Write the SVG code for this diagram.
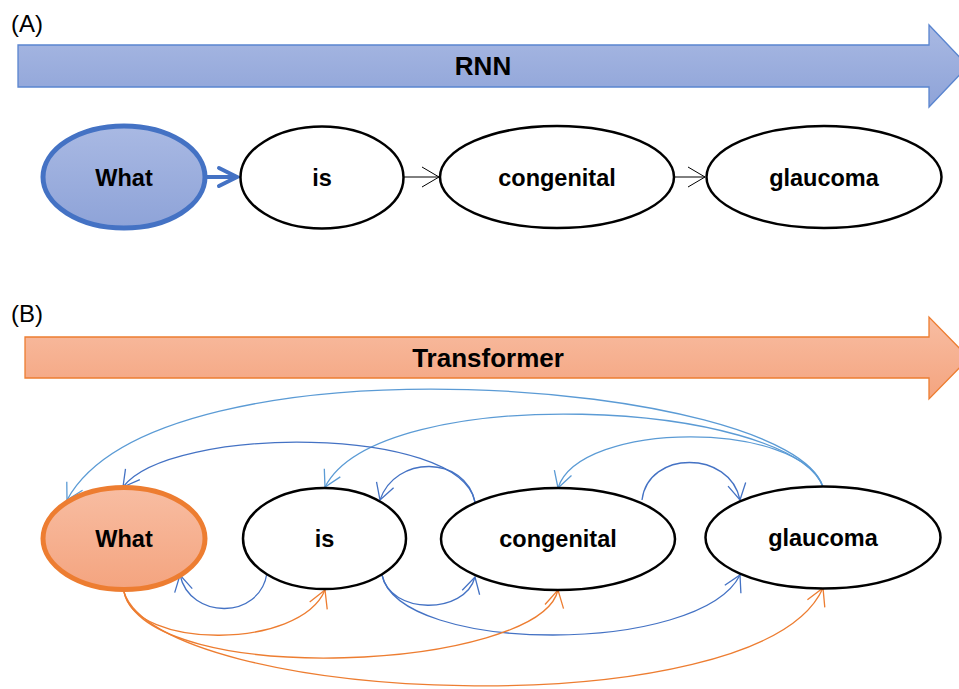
<svg xmlns="http://www.w3.org/2000/svg" width="959" height="689" viewBox="0 0 959 689">
<defs>
<style>
.lbl{font-family:"Liberation Sans",Arial,sans-serif;font-size:24px;fill:#000}
.ban{font-family:"Liberation Sans",Arial,sans-serif;font-size:26px;font-weight:bold;fill:#000;text-anchor:middle}
.nt{font-family:"Liberation Sans",Arial,sans-serif;font-size:23.5px;font-weight:bold;fill:#000;text-anchor:middle}
.plain{fill:#fff;stroke:#000;stroke-width:2.5}
.lb{fill:none;stroke:#5b9bd5;stroke-width:1.3}
.db{fill:none;stroke:#4472c4;stroke-width:1.3}
.or{fill:none;stroke:#ed7d31;stroke-width:1.3}
</style>
<linearGradient id="gBlue" x1="0" y1="0" x2="0" y2="1"><stop offset="0" stop-color="#a9b9e3"/><stop offset="1" stop-color="#8ea3d8"/></linearGradient>
<linearGradient id="gOr" x1="0" y1="0" x2="0" y2="1"><stop offset="0" stop-color="#f8bda2"/><stop offset="1" stop-color="#f4a47f"/></linearGradient>
<marker id="mLB" markerUnits="userSpaceOnUse" markerWidth="40" markerHeight="40" viewBox="-20 -20 40 40" refX="0" refY="0" orient="auto" overflow="visible"><path d="M-16,-9 L0,0 L-16,9" fill="none" stroke="#5b9bd5" stroke-width="1.3"/></marker>
<marker id="mDB" markerUnits="userSpaceOnUse" markerWidth="40" markerHeight="40" viewBox="-20 -20 40 40" refX="0" refY="0" orient="auto" overflow="visible"><path d="M-16,-9 L0,0 L-16,9" fill="none" stroke="#4472c4" stroke-width="1.3"/></marker>
<marker id="mOR" markerUnits="userSpaceOnUse" markerWidth="40" markerHeight="40" viewBox="-20 -20 40 40" refX="0" refY="0" orient="auto" overflow="visible"><path d="M-17,-9.5 L0,0 L-17,9.5" fill="none" stroke="#ed7d31" stroke-width="1.3"/></marker>
<marker id="mBK" markerUnits="userSpaceOnUse" markerWidth="40" markerHeight="40" viewBox="-20 -20 40 40" refX="0" refY="0" orient="auto" overflow="visible"><path d="M-17,-10 L0,0 L-17,10" fill="none" stroke="#000" stroke-width="1"/></marker>
<marker id="mTB" markerUnits="userSpaceOnUse" markerWidth="40" markerHeight="40" viewBox="-20 -20 40 40" refX="0" refY="0" orient="auto" overflow="visible"><path d="M-18,-9 L0,0 L-18,9" fill="none" stroke="#4472c4" stroke-width="4" stroke-linecap="round"/></marker>
</defs>
<rect width="959" height="689" fill="#fff"/>

<text class="lbl" x="11" y="32">(A)</text>
<g id="rnn-banner">
<path d="M18,45 L929,45 L929,25 L968,66 L929,107 L929,87 L18,87 Z" fill="url(#gBlue)" stroke="#5a85cf" stroke-width="1.3"/>
<text class="ban" x="483" y="75">RNN</text>
</g>

<text class="lbl" x="11" y="322">(B)</text>
<g id="transformer-banner">
<path d="M25,337 L929,337 L929,317 L969,358 L929,399 L929,378 L25,378 Z" fill="url(#gOr)" stroke="#ed7d31" stroke-width="1.3"/>
<text class="ban" x="488" y="367">Transformer</text>
</g>

<g id="connectors">
<line x1="207" y1="177" x2="237" y2="177" stroke="#4472c4" stroke-width="4" marker-end="url(#mTB)"/>
<line x1="404" y1="177" x2="439" y2="177" stroke="#000" stroke-width="1" marker-end="url(#mBK)"/>
<line x1="674" y1="177" x2="705" y2="177" stroke="#000" stroke-width="1" marker-end="url(#mBK)"/>

<path class="lb" d="M823,487 C790,380 160,330 67,500" marker-end="url(#mLB)"/>
<path class="lb" d="M823,487 C790,400 380,380 325,487" marker-end="url(#mLB)"/>
<path class="lb" d="M823,487 C800,420 580,420 558,488" marker-end="url(#mLB)"/>
<path class="db" d="M475,502 C460,425 170,425 123,487" marker-end="url(#mDB)"/>
<path class="db" d="M475,502 C465,455 395,455 380,500" marker-end="url(#mDB)"/>
<path class="db" d="M642,500 C648,450 730,450 740,500" marker-end="url(#mDB)"/>
<path class="db" d="M267,573 C260,620 190,620 180,575" marker-end="url(#mDB)"/>
<path class="db" d="M382,575 C390,615 465,615 475,577" marker-end="url(#mDB)"/>
<path class="db" d="M382,575 C400,655 700,655 740,575" marker-end="url(#mDB)"/>
<path class="or" d="M124,592 C135,650 300,650 325,590" marker-end="url(#mOR)"/>
<path class="or" d="M124,592 C150,690 540,670 558,590" marker-end="url(#mOR)"/>
<path class="or" d="M124,592 C160,705 760,730 823,588" marker-end="url(#mOR)"/>
</g>

<g id="a-what">
<ellipse cx="124" cy="177" rx="81" ry="51" fill="url(#gBlue)" stroke="#4472c4" stroke-width="5"/>
<text class="nt" x="124" y="185.5">What</text>
</g>
<g id="a-is">
<ellipse cx="322" cy="177.5" rx="81.5" ry="51" class="plain"/>
<text class="nt" x="322" y="185.5">is</text>
</g>
<g id="a-congenital">
<ellipse cx="557" cy="177" rx="117" ry="51" class="plain"/>
<text class="nt" x="557" y="185.5">congenital</text>
</g>
<g id="a-glaucoma">
<ellipse cx="824" cy="177" rx="117.5" ry="51" class="plain"/>
<text class="nt" x="824" y="185.5">glaucoma</text>
</g>

<g id="b-what">
<ellipse cx="124" cy="538.5" rx="81" ry="51" fill="url(#gOr)" stroke="#ed7d31" stroke-width="5"/>
<text class="nt" x="124" y="547">What</text>
</g>
<g id="b-is">
<ellipse cx="324.5" cy="538.5" rx="81.5" ry="50.5" class="plain"/>
<text class="nt" x="324.5" y="547">is</text>
</g>
<g id="b-congenital">
<ellipse cx="558" cy="539" rx="117" ry="51" class="plain"/>
<text class="nt" x="558" y="547">congenital</text>
</g>
<g id="b-glaucoma">
<ellipse cx="823" cy="537.5" rx="117.5" ry="51" class="plain"/>
<text class="nt" x="823" y="546">glaucoma</text>
</g>
</svg>
